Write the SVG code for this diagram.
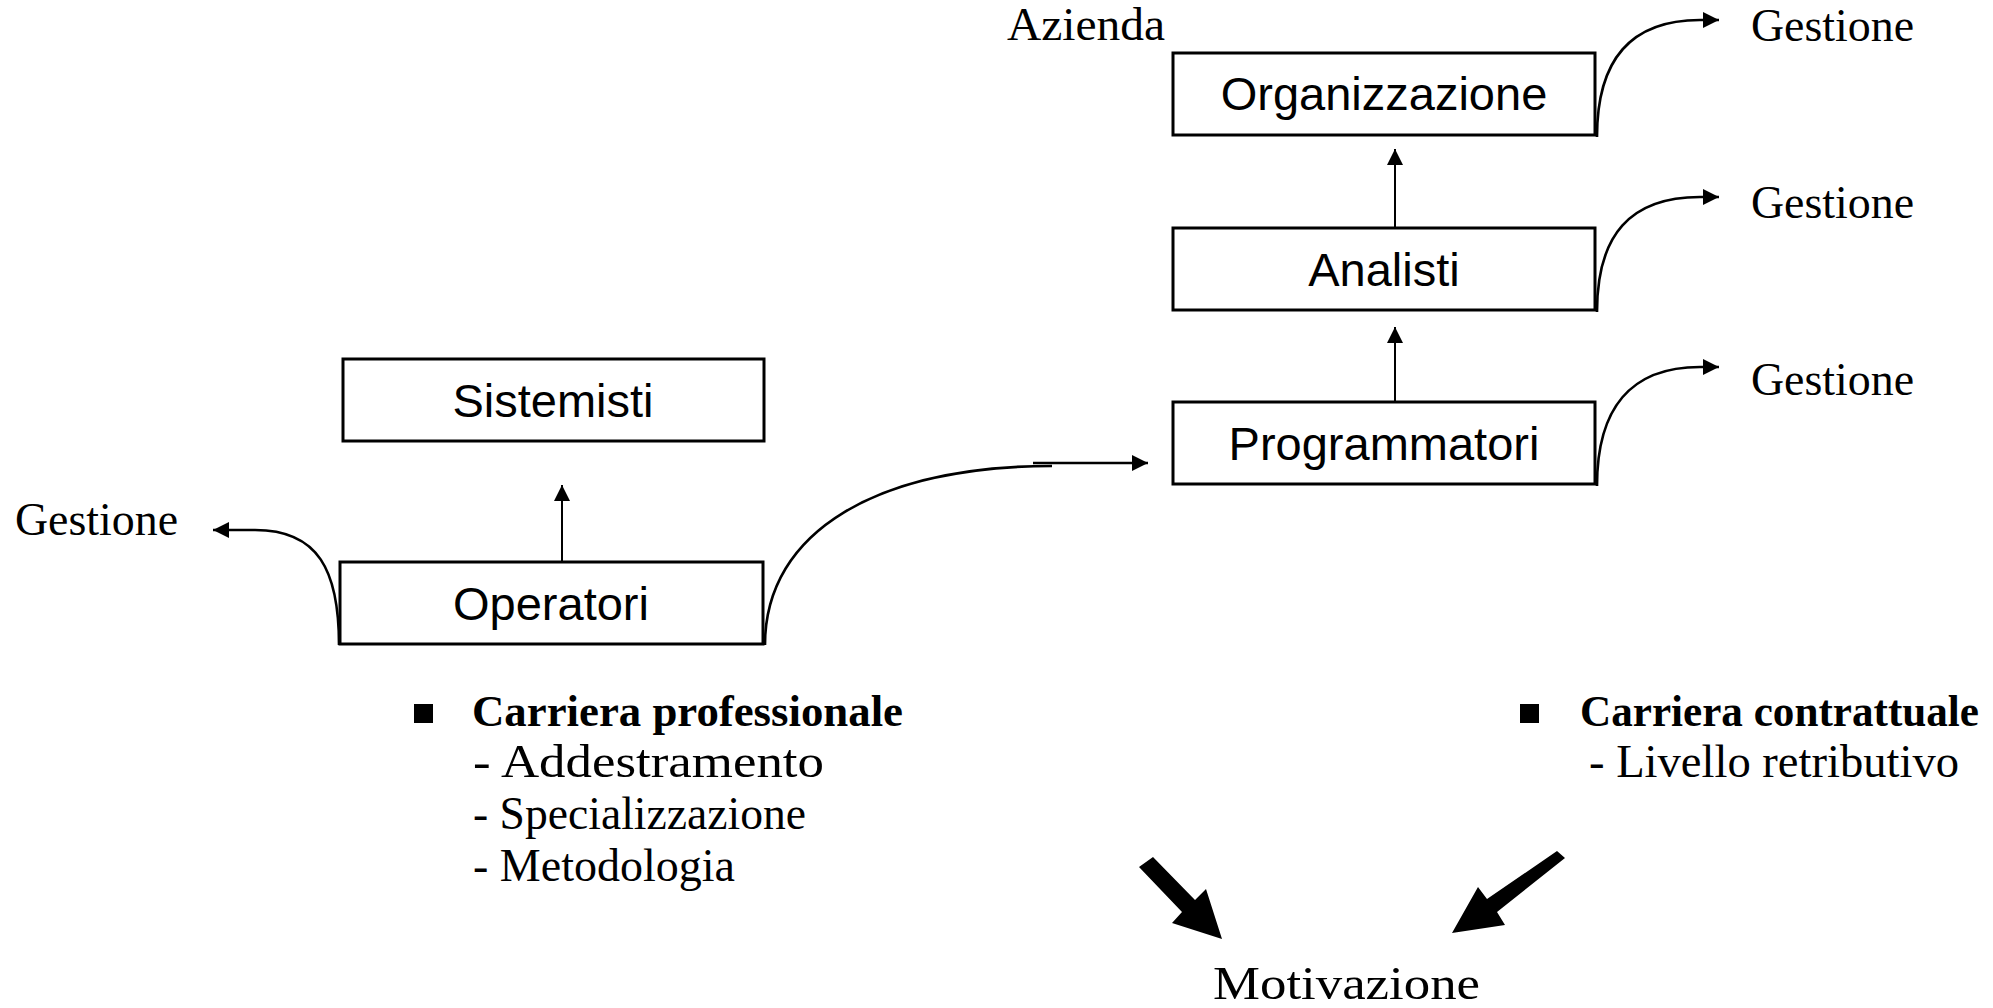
<svg xmlns="http://www.w3.org/2000/svg" width="1993" height="1008" viewBox="0 0 1993 1008">
  <style>
    .box { fill: #ffffff; stroke: #000000; stroke-width: 3; }
    .lbl { font-family: "Liberation Sans", Arial, sans-serif; font-size: 47px; fill: #000000; text-anchor: middle; }
    .ser { font-family: "Liberation Serif", "Times New Roman", serif; font-size: 46px; fill: #000000; }
    .serb { font-family: "Liberation Serif", "Times New Roman", serif; font-size: 45px; font-weight: bold; fill: #000000; }
    .up { stroke: #000000; stroke-width: 2; fill: none; }
    .curve { stroke: #000000; stroke-width: 2.6; fill: none; }
  </style>
  <defs>
    <marker id="head" markerUnits="userSpaceOnUse" markerWidth="17" markerHeight="17" refX="16" refY="8" orient="auto">
      <path d="M0,0 L16,8 L0,16 Z" fill="#000000"/>
    </marker>
  </defs>

  <rect width="1993" height="1008" fill="#ffffff"/>

  <!-- connectors -->
  <g id="connectors">
    <line class="up" x1="1395" y1="402" x2="1395" y2="327" marker-end="url(#head)"/>
    <line class="up" x1="1395" y1="228" x2="1395" y2="149" marker-end="url(#head)"/>
    <line class="up" x1="562" y1="562" x2="562" y2="485" marker-end="url(#head)"/>
    <path class="curve" d="M765,645 C765,530 880,466 1052,466"/>
    <line class="curve" x1="1033" y1="463" x2="1148" y2="463" marker-end="url(#head)"/>
    <path class="curve" d="M339,645 C339,570 318,530 255,530 L213,530" marker-end="url(#head)"/>
    <path class="curve" d="M1597,137 C1597,60 1630,20 1700,20 L1719,20" marker-end="url(#head)"/>
    <path class="curve" d="M1597,312 C1597,235 1630,197 1700,197 L1719,197" marker-end="url(#head)"/>
    <path class="curve" d="M1597,486 C1597,409 1630,367 1700,367 L1719,367" marker-end="url(#head)"/>
    <!-- block arrows pointing at Motivazione -->
    <polygon points="1139,867 1153,857 1195,900 1206,889 1222,939 1172,923 1182,912" fill="#000000"/>
    <polygon points="1565,858 1557,851 1487,899 1478,887 1452,933 1505,925 1497,912" fill="#000000"/>
  </g>

  <!-- boxes -->
  <g id="organizzazione">
    <rect class="box" x="1173" y="53" width="422" height="82"/>
    <text class="lbl" x="1384" y="110">Organizzazione</text>
  </g>
  <g id="analisti">
    <rect class="box" x="1173" y="228" width="422" height="82"/>
    <text class="lbl" x="1384" y="286">Analisti</text>
  </g>
  <g id="programmatori">
    <rect class="box" x="1173" y="402" width="422" height="82"/>
    <text class="lbl" x="1384" y="460">Programmatori</text>
  </g>
  <g id="sistemisti">
    <rect class="box" x="343" y="359" width="421" height="82"/>
    <text class="lbl" x="553" y="417">Sistemisti</text>
  </g>
  <g id="operatori">
    <rect class="box" x="340" y="562" width="423" height="82"/>
    <text class="lbl" x="551" y="620">Operatori</text>
  </g>

  <!-- free labels -->
  <g id="labels">
    <text class="ser" x="1007" y="40" textLength="158" lengthAdjust="spacingAndGlyphs">Azienda</text>
    <text class="ser" x="1751" y="41" textLength="163" lengthAdjust="spacingAndGlyphs">Gestione</text>
    <text class="ser" x="1751" y="218" textLength="163" lengthAdjust="spacingAndGlyphs">Gestione</text>
    <text class="ser" x="1751" y="395" textLength="163" lengthAdjust="spacingAndGlyphs">Gestione</text>
    <text class="ser" x="15" y="535" textLength="163" lengthAdjust="spacingAndGlyphs">Gestione</text>
  </g>

  <g id="carriera-professionale">
    <rect x="414" y="704" width="19" height="19" fill="#000000"/>
    <text class="serb" x="472" y="726" textLength="431" lengthAdjust="spacingAndGlyphs">Carriera professionale</text>
    <text class="ser" x="473" y="777" textLength="351" lengthAdjust="spacingAndGlyphs">- Addestramento</text>
    <text class="ser" x="473" y="829" textLength="333" lengthAdjust="spacingAndGlyphs">- Specializzazione</text>
    <text class="ser" x="473" y="881" textLength="262" lengthAdjust="spacingAndGlyphs">- Metodologia</text>
  </g>

  <g id="carriera-contrattuale">
    <rect x="1520" y="704" width="19" height="19" fill="#000000"/>
    <text class="serb" x="1580" y="726" textLength="399" lengthAdjust="spacingAndGlyphs">Carriera contrattuale</text>
    <text class="ser" x="1589" y="777" textLength="370" lengthAdjust="spacingAndGlyphs">- Livello retributivo</text>
  </g>

  <g id="motivazione">
    <text class="ser" x="1213" y="999" font-size="50" textLength="267" lengthAdjust="spacingAndGlyphs">Motivazione</text>
  </g>
</svg>
